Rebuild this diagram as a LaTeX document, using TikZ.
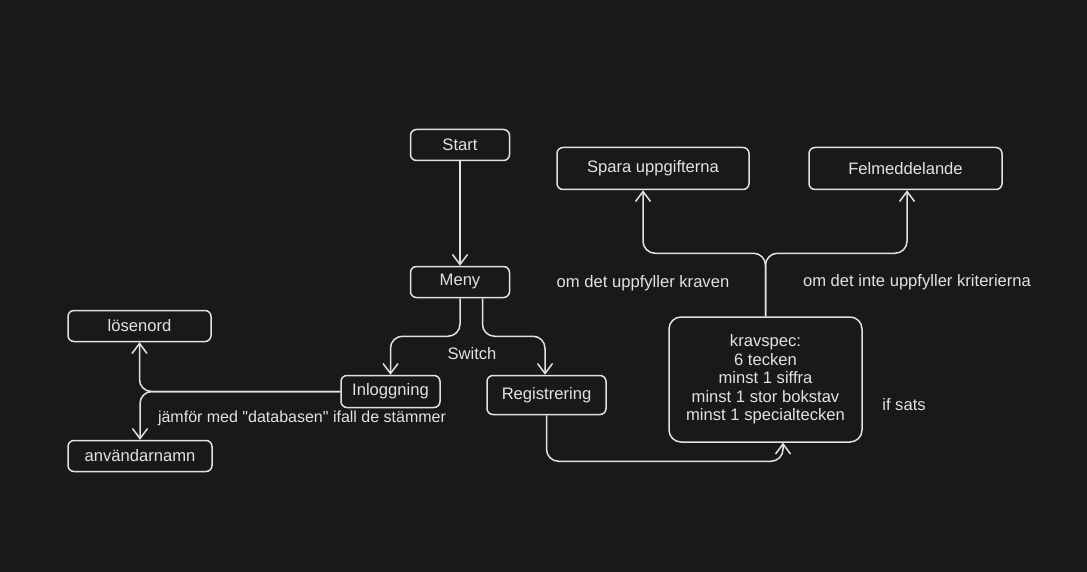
\documentclass[tikz,border=0pt]{standalone}
\usepackage{fontspec}
\setmainfont{Liberation Sans}[Ligatures=TeXOff]
\usetikzlibrary{arrows.meta}
\definecolor{bgc}{HTML}{191919}
\definecolor{ink}{HTML}{E2E2E2}
\begin{document}
\begin{tikzpicture}[x=1pt,y=-1pt,
  box/.style={draw=ink, line width=1.5pt, rounded corners=6pt, fill=bgc, text=ink,
    inner sep=0pt, font=\fontsize{16.6}{18.4}\selectfont, align=center},
  lbl/.style={text=ink, inner sep=0pt, font=\fontsize{16.6}{18.4}\selectfont},
  conn/.style={draw=ink, line width=1.5pt, rounded corners=12pt,
    -{Straight Barb[length=10pt,width=15pt,line width=1.5pt]}}]
\fill[bgc] (0,0) rectangle (1087,572);
\useasboundingbox (0,0) rectangle (1087,572);

% nodes
\node[box, minimum width=99pt, minimum height=31pt] (start) at (460,145) {Start};
\node[box, minimum width=99pt, minimum height=31pt] (meny) at (460,282) {Meny};
\node[box, minimum width=143pt, minimum height=31pt] (losen) at (139.5,326) {lösenord};
\node[box, minimum width=144pt, minimum height=31pt] (anv) at (140,456) {användarnamn};
\node[box, minimum width=99pt, minimum height=32pt] (inlog) at (390.5,391.5) {Inloggning};
\node[box, minimum width=119pt, minimum height=39pt] (reg) at (546.5,395) {Registrering};
\node[box, minimum width=192pt, minimum height=42pt] (spara) at (653,168.5) {Spara uppgifterna};
\node[box, minimum width=193pt, minimum height=42pt] (fel) at (905.5,168.5) {Felmeddelande};
\node[box, minimum width=193pt, minimum height=125pt, rounded corners=12pt] (krav) at (765.5,379.5)
  {kravspec:\\6 tecken\\minst 1 siffra\\minst 1 stor bokstav\\minst 1 specialtecken};

% labels
\node[lbl] (sw) at (472,354) {Switch};
\node[lbl] (l1) at (643,283) {om det uppfyller kraven};
\node[lbl] (l2) at (917,282) {om det inte uppfyller kriterierna};
\node[lbl] (l3) at (904,405) {if sats};
\node[lbl, font=\fontsize{16}{18.4}\selectfont] (l4) at (302,418) {jämför med "databasen" ifall de stämmer};

% connectors
\draw[conn, rounded corners=0pt] (start.south) -- (meny.north);
\draw[conn] (meny.south) -- ++(0,38) -| (inlog.north);
\draw[conn] ([xshift=22.5pt]meny.south) -- ++(0,38) -| ([xshift=-1.5pt]reg.north);
\draw[conn] (inlog.west) -| (losen.south);
\draw[conn] (inlog.west) -| (anv.north);
\draw[conn] (reg.south) -- ++(0,46) -| ([xshift=17.5pt]krav.south);
\draw[conn] (krav.north) -- ++(0,-63) -| ([xshift=-10pt]spara.south);
\draw[conn] (krav.north) -- ++(0,-63) -| ([xshift=1.5pt]fel.south);
\end{tikzpicture}
\end{document}
